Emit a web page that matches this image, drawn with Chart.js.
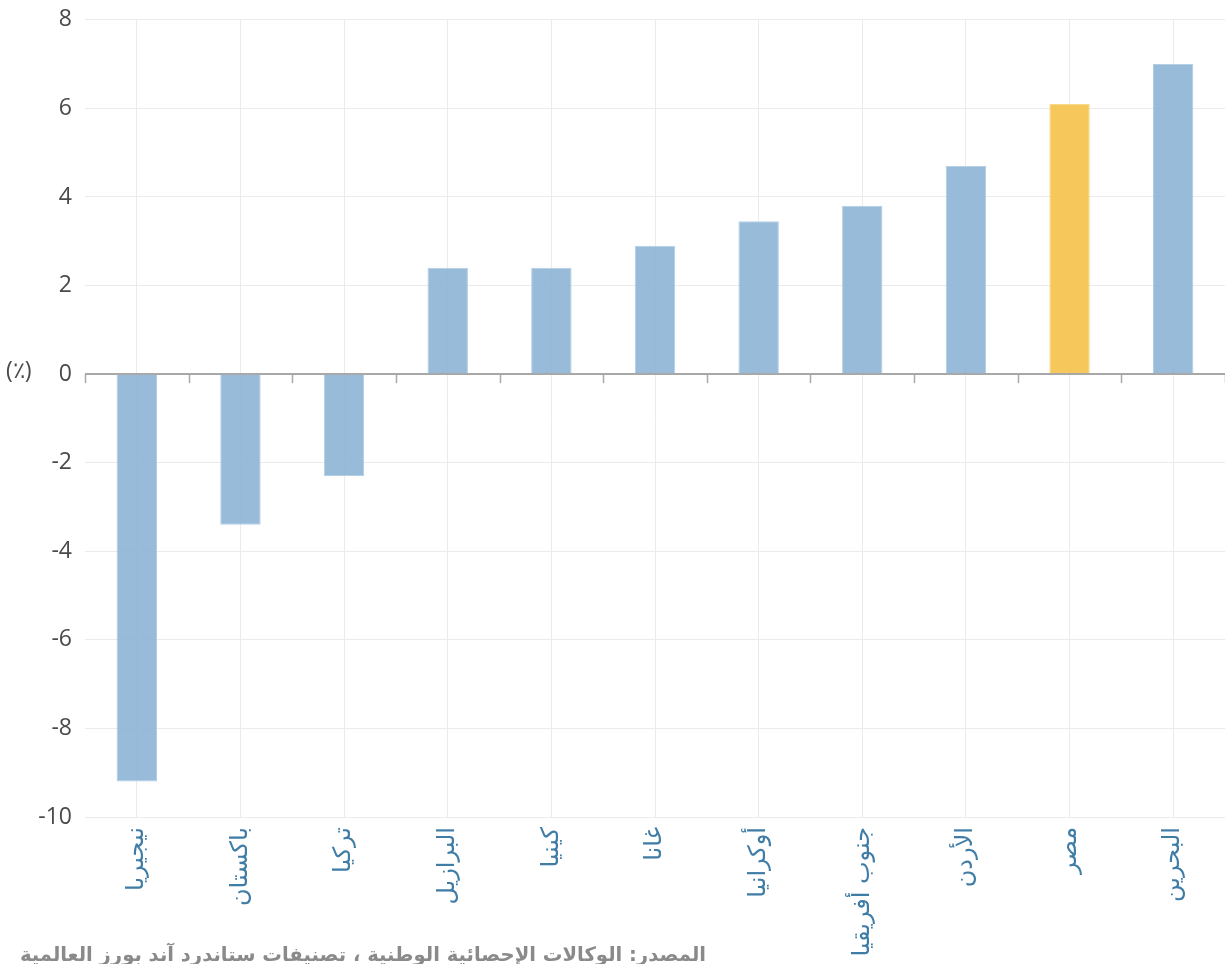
<!DOCTYPE html>
<html><head><meta charset="utf-8">
<script src="https://cdn.jsdelivr.net/npm/chart.js@4"></script>
<style>
html,body{margin:0;padding:0;background:#fff;overflow:hidden;}
#wrap{position:relative;width:1225px;height:964px;overflow:hidden;}
#c{position:absolute;left:0;top:-7px;}
#unit{position:absolute;left:6px;top:353px;font:23px "Open Sans",sans-serif;color:#4a4a4a;}
#src{position:absolute;right:519px;top:943px;font:bold 19.6px "DejaVu Sans",sans-serif;color:#8a8a8a;direction:rtl;white-space:nowrap;}
</style></head><body>
<div id="wrap">
<canvas id="c" width="1225" height="971"></canvas>
<div id="unit">(٪)</div>
<div id="src">المصدر: الوكالات الإحصائية الوطنية ، تصنيفات ستاندرد آند بورز العالمية</div>
</div>
<script>
const categories = ["نيجيريا","باكستان","تركيا","البرازيل","كينيا","غانا","أوكرانيا","جنوب أفريقيا","الأردن","مصر","البحرين"];
const values = [-9.2,-3.4,-2.3,2.4,2.4,2.9,3.45,3.8,4.7,6.1,7.0];
const highlight = "مصر";
const yTicks = [-10,-8,-6,-4,-2,0,2,4,6,8];

const blue = 'rgba(140,180,212,0.9)', blueB = 'rgba(180,206,228,1)';
const yellow = 'rgba(245,196,82,0.95)', yellowB = 'rgba(249,218,140,1)';

const boundaryTicks = {
  id:'boundaryTicks',
  afterDatasetsDraw(chart){
    const {ctx, scales:{x,y}, chartArea} = chart;
    const y0 = y.getPixelForValue(0);
    ctx.save();
    ctx.strokeStyle = '#a8a8a8';
    ctx.lineWidth = 2;
    ctx.beginPath();
    ctx.moveTo(chartArea.left, y0); ctx.lineTo(chartArea.right, y0);
    ctx.stroke();
    ctx.lineWidth = 1.5;
    const half = (x.getPixelForValue(1) - x.getPixelForValue(0))/2;
    for (let i=0;i<=categories.length;i++){
      const px = Math.round(x.getPixelForValue(i) - half)+0.5;
      ctx.beginPath(); ctx.moveTo(px, y0); ctx.lineTo(px, y0+9); ctx.stroke();
    }
    ctx.restore();
  }
};

new Chart(document.getElementById('c'), {
  type:'bar',
  data:{labels:categories, datasets:[{
    data:values,
    backgroundColor: categories.map(c=>c===highlight?yellow:blue),
    borderColor: categories.map(c=>c===highlight?yellowB:blueB),
    borderWidth:1,
    categoryPercentage:1,
    barPercentage:0.39
  }]},
  options:{
    responsive:false, animation:false,
    layout:{padding:{top:0,right:0,left:0,bottom:0}},
    plugins:{legend:{display:false}, tooltip:{enabled:false}},
    scales:{
      y:{
        min:-10, max:8,
        afterBuildTicks(s){ s.ticks = yTicks.map(v=>({value:v})); },
        afterFit(s){ s.width = 85; },
        border:{display:false},
        grid:{color:'#ebebeb', lineWidth:1, drawTicks:false},
        ticks:{padding:13, color:'#4a4a4a', font:{family:'"Open Sans", sans-serif', size:23}}
      },
      x:{
        afterFit(s){ s.height = 147; },
        border:{display:false},
        grid:{offset:false, color:'#ebebeb', lineWidth:1, drawTicks:false},
        ticks:{maxRotation:90, minRotation:90, padding:10, color:'#3f7ca6', font:{family:'"DejaVu Sans", sans-serif', size:24}}
      }
    }
  },
  plugins:[boundaryTicks]
});
</script>
</body></html>
